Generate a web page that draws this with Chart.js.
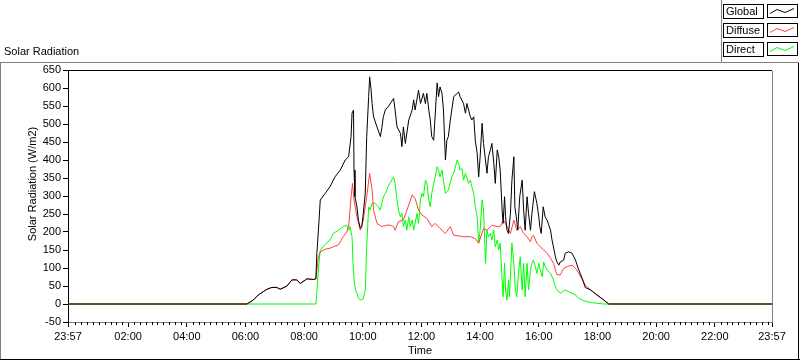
<!DOCTYPE html>
<html>
<head>
<meta charset="utf-8">
<script src="https://cdn.jsdelivr.net/npm/chart.js@4.4.1/dist/chart.umd.min.js"></script>
<style>
  html, body { margin: 0; padding: 0; background: #fff; }
  #wrap { width: 800px; height: 361px; }
</style>
</head>
<body>
<div id="wrap"><canvas id="chart" width="800" height="361"></canvas></div>
<script>
// Time values are minutes from midnight (-3 = 23:57 the day before)
const majorTickTimes = [-3, 120, 240, 360, 480, 600, 720, 840, 960, 1080, 1200, 1320, 1437];

const globalTimes = [-3, 363, 376, 386, 404, 414, 424, 431, 445, 455, 465, 472, 486, 499, 504, 506, 509, 513, 523, 533,
  543, 554, 564, 571, 576, 578, 581, 582, 584, 588, 591, 595, 598, 601, 605, 608, 612, 614, 617, 619,
  622, 629, 636, 639, 642, 646, 653, 663, 666, 670, 677, 680, 683, 687, 694, 701, 704, 707, 714, 718,
  724, 728, 731, 735, 738, 741, 745, 752, 755, 758, 762, 765, 769, 772, 775, 779, 782, 786, 793, 796,
  799, 806, 810, 813, 820, 823, 827, 830, 834, 837, 840, 844, 847, 854, 857, 861, 864, 868, 871, 875,
  878, 881, 885, 887, 890, 892, 895, 898, 902, 905, 909, 911, 914, 917, 921, 926, 929, 932, 936, 939,
  943, 946, 951, 956, 960, 962, 965, 969, 973, 977, 984, 987, 994, 997, 1001, 1004, 1011, 1014, 1021, 1028,
  1035, 1042, 1049, 1055, 1066, 1079, 1093, 1103, 1437];
const globalValues = [0, 0, 11, 25, 41, 46, 46, 41, 50, 67, 67, 57, 70, 68, 70, 140, 200, 289, 307, 326,
  353, 372, 400, 409, 465, 530, 539, 372, 298, 270, 233, 210, 215, 252, 307, 465, 576, 631, 594, 557,
  520, 492, 465, 490, 520, 539, 550, 571, 539, 492, 474, 437, 492, 446, 511, 539, 567, 539, 594, 557,
  585, 557, 585, 539, 511, 465, 455, 614, 576, 603, 585, 539, 400, 455, 465, 511, 539, 576, 585, 589,
  576, 557, 530, 557, 520, 511, 520, 455, 418, 353, 409, 502, 446, 363, 409, 428, 446, 391, 335, 428,
  409, 372, 261, 224, 298, 242, 205, 196, 252, 344, 409, 270, 242, 205, 298, 344, 261, 205, 298, 252,
  205, 252, 312, 280, 242, 215, 196, 270, 242, 233, 205, 178, 131, 117, 108, 117, 122, 141, 145, 141,
  122, 94, 71, 46, 39, 25, 11, 0, 0];

const diffuseTimes = [-3, 363, 376, 386, 404, 414, 424, 431, 445, 455, 465, 472, 486, 499, 504, 509, 513, 523, 533, 540,
  550, 560, 567, 571, 576, 579, 582, 588, 595, 601, 608, 614, 619, 622, 629, 639, 649, 656, 663, 666,
  673, 683, 694, 701, 707, 714, 721, 731, 741, 748, 758, 769, 779, 786, 806, 820, 830, 837, 847, 854,
  864, 875, 881, 888, 895, 902, 909, 915, 922, 929, 936, 943, 946, 949, 956, 963, 970, 977, 984, 990,
  994, 997, 1004, 1011, 1018, 1028, 1035, 1042, 1049, 1055, 1066, 1079, 1093, 1103, 1437];
const diffuseValues = [0, 0, 11, 25, 41, 46, 46, 41, 50, 67, 67, 57, 70, 68, 70, 130, 145, 152, 155, 159,
  164, 187, 200, 215, 298, 335, 289, 242, 205, 233, 298, 363, 317, 261, 224, 215, 219, 219, 215, 205,
  229, 233, 275, 303, 293, 261, 247, 238, 215, 224, 210, 196, 215, 191, 187, 187, 182, 169, 210, 205,
  219, 215, 215, 233, 215, 196, 233, 205, 215, 196, 187, 173, 187, 191, 169, 159, 150, 141, 127, 113,
  94, 81, 81, 99, 104, 108, 99, 85, 67, 53, 39, 25, 11, 0, 0];

const directTimes = [-3, 504, 506, 509, 513, 523, 533, 540, 550, 560, 567, 571, 574, 578, 580, 582, 585, 588, 591, 595,
  601, 605, 608, 612, 615, 619, 625, 632, 636, 642, 646, 649, 655, 663, 666, 670, 673, 677, 680, 683,
  687, 690, 694, 697, 701, 704, 711, 714, 718, 721, 724, 728, 731, 735, 738, 741, 748, 752, 755, 758,
  762, 765, 769, 775, 782, 786, 793, 796, 799, 803, 806, 810, 816, 820, 823, 827, 830, 834, 837, 840,
  844, 847, 851, 854, 857, 861, 864, 868, 871, 875, 878, 881, 885, 887, 890, 892, 895, 898, 900, 905,
  909, 912, 915, 919, 922, 926, 929, 932, 936, 939, 943, 946, 949, 953, 956, 960, 963, 967, 970, 973,
  977, 984, 987, 990, 994, 997, 1001, 1004, 1014, 1021, 1028, 1035, 1042, 1052, 1066, 1079, 1093, 1437];
const directValues = [0, 0, 30, 94, 150, 165, 178, 196, 205, 215, 219, 205, 215, 187, 113, 67, 39, 30, 16, 11,
  14, 39, 159, 270, 261, 280, 280, 270, 261, 298, 307, 317, 335, 353, 335, 289, 261, 242, 252, 215,
  233, 205, 242, 215, 233, 205, 252, 224, 289, 307, 298, 344, 335, 289, 270, 307, 353, 381, 372, 353,
  372, 344, 307, 317, 353, 363, 400, 391, 372, 376, 344, 363, 335, 344, 326, 307, 270, 242, 169, 205,
  289, 261, 113, 205, 187, 196, 178, 205, 159, 178, 150, 169, 67, 20, 113, 39, 11, 67, 20, 169,
  113, 39, 20, 94, 131, 39, 113, 20, 113, 39, 94, 113, 122, 104, 85, 113, 94, 76, 117, 104,
  94, 85, 76, 67, 48, 39, 34, 30, 39, 34, 30, 25, 16, 9, 4, 2, 0, 0];

const seriesLabels = ['Global', 'Diffuse', 'Direct'];
const seriesColors = ['#000000', '#ff4040', '#00ff00'];
const yTitle = 'Solar Radiation (W/m2)';

const FONT = 'Tahoma, "Liberation Sans", Arial, sans-serif';

const toPoints = (times, values) => times.map((t, i) => ({ x: t, y: values[i] }));

const fmtTime = (v) => {
    const m = ((Math.round(v) % 1440) + 1440) % 1440;
    const hh = String(Math.floor(m / 60)).padStart(2, '0');
    const mm = String(m % 60).padStart(2, '0');
    return hh + ':' + mm;
};

// frame, minor ticks, y title and the LabVIEW style legend
const framePlugin = {
    id: 'frame',
    beforeDraw(chart) {
        const ctx = chart.ctx;
        ctx.save();
        ctx.fillStyle = '#ffffff';
        ctx.fillRect(0, 0, chart.width, chart.height);
        ctx.restore();
    },
    afterDraw(chart) {
        const ctx = chart.ctx;
        const area = chart.chartArea;
        const xScale = chart.scales.x;
        ctx.save();
        ctx.lineWidth = 1;

        // outer frame
        ctx.strokeStyle = '#808080';
        ctx.beginPath();
        ctx.moveTo(0, 62.5); ctx.lineTo(799, 62.5);
        ctx.moveTo(0.5, 62); ctx.lineTo(0.5, 360);
        ctx.stroke();
        ctx.strokeStyle = '#000000';
        ctx.beginPath();
        ctx.moveTo(0, 359.5); ctx.lineTo(800, 359.5);
        ctx.moveTo(798.5, 63); ctx.lineTo(798.5, 360);
        ctx.stroke();

        // plot area top and right
        ctx.strokeStyle = '#000000';
        ctx.beginPath();
        ctx.moveTo(area.left, Math.round(area.top) + 0.5);
        ctx.lineTo(area.right, Math.round(area.top) + 0.5);
        ctx.stroke();
        ctx.strokeStyle = '#808080';
        ctx.beginPath();
        ctx.moveTo(Math.round(area.right) + 0.5, area.top + 1);
        ctx.lineTo(Math.round(area.right) + 0.5, area.bottom);
        ctx.stroke();

        // minor ticks every 12 minutes
        ctx.strokeStyle = '#000000';
        ctx.beginPath();
        for (let t = 12; t < xScale.max; t += 12) {
            if (t % 120 === 0) continue;
            const px = Math.round(xScale.getPixelForValue(t)) + 0.5;
            ctx.moveTo(px, area.bottom);
            ctx.lineTo(px, area.bottom + 3);
        }
        ctx.stroke();

        // y axis title, sits a bit above the middle like the original
        ctx.fillStyle = '#000000';
        ctx.font = '11px ' + FONT;
        ctx.textAlign = 'center';
        ctx.textBaseline = 'middle';
        ctx.translate(33, 184);
        ctx.rotate(-Math.PI / 2);
        ctx.fillText(yTitle, 0, 0);
        ctx.setTransform(1, 0, 0, 1, 0, 0);

        // legend panel
        ctx.fillStyle = '#ffffff';
        ctx.fillRect(722, 0, 78, 62);
        ctx.strokeStyle = '#808080';
        ctx.beginPath();
        ctx.moveTo(721.5, 0); ctx.lineTo(721.5, 62);
        ctx.stroke();

        ctx.textAlign = 'left';
        chart.data.datasets.forEach((ds, i) => {
            const top = 4 + i * 19;
            ctx.strokeStyle = '#000000';
            ctx.strokeRect(723.5, top + 0.5, 40, 14);
            ctx.strokeRect(767.5, top + 0.5, 30, 13);
            ctx.fillStyle = '#000000';
            ctx.fillText(ds.label, 726, top + 8);
            ctx.strokeStyle = ds.borderColor;
            ctx.beginPath();
            ctx.moveTo(770, top + 9.5);
            ctx.lineTo(777, top + 5.5);
            ctx.lineTo(785, top + 8.5);
            ctx.lineTo(794, top + 4.5);
            ctx.stroke();
        });
        ctx.restore();
    }
};

const ctx = document.getElementById('chart').getContext('2d');

new Chart(ctx, {
    type: 'line',
    data: {
        datasets: [
            { label: seriesLabels[0], data: toPoints(globalTimes, globalValues), borderColor: seriesColors[0] },
            { label: seriesLabels[1], data: toPoints(diffuseTimes, diffuseValues), borderColor: seriesColors[1] },
            { label: seriesLabels[2], data: toPoints(directTimes, directValues), borderColor: seriesColors[2] },
        ]
    },
    options: {
        responsive: false,
        animation: false,
        events: [],
        layout: { padding: { left: 4, right: 28, top: 0, bottom: 0 } },
        elements: {
            line: { borderWidth: 1, tension: 0, fill: false },
            point: { radius: 0 }
        },
        plugins: {
            legend: { display: false },
            tooltip: { enabled: false },
            title: {
                display: true,
                text: 'Solar Radiation',
                align: 'start',
                color: '#000',
                font: { family: FONT, size: 11, weight: 'normal', lineHeight: 1.2 },
                padding: { top: 45, bottom: 11.8 }
            }
        },
        scales: {
            x: {
                type: 'linear',
                min: -3,
                max: 1437,
                afterBuildTicks: (scale) => {
                    scale.ticks = majorTickTimes.map(v => ({ value: v }));
                },
                afterFit: (scale) => { scale.height = 39; },
                ticks: {
                    autoSkip: false,
                    maxRotation: 0,
                    padding: 3,
                    color: '#000',
                    font: { family: FONT, size: 11 },
                    callback: (v) => fmtTime(v)
                },
                grid: { display: true, drawOnChartArea: false, drawTicks: true, tickLength: 5, tickColor: '#000' },
                border: { display: true, color: '#808080' },
                title: {
                    display: true,
                    text: 'Time',
                    color: '#000',
                    font: { family: FONT, size: 11 },
                    padding: { top: 0, bottom: 3 }
                }
            },
            y: {
                min: -50,
                max: 650,
                afterFit: (scale) => { scale.width = 64; },
                ticks: {
                    stepSize: 50,
                    padding: 2,
                    color: '#000',
                    font: { family: FONT, size: 11 }
                },
                grid: { display: true, drawOnChartArea: false, drawTicks: true, tickLength: 5, tickColor: '#000' },
                border: { display: true, color: '#000' },
                title: { display: false, text: yTitle }
            }
        }
    },
    plugins: [framePlugin]
});
</script>
</body>
</html>
